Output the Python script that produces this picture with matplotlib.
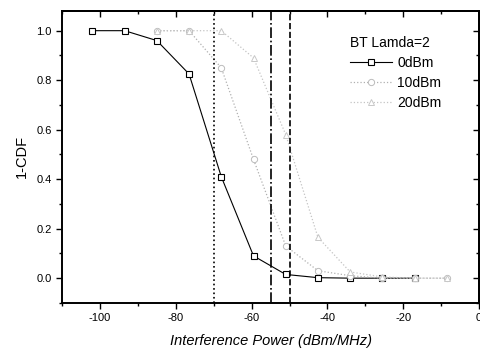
import matplotlib
matplotlib.use("Agg")
import matplotlib.pyplot as plt
from matplotlib.ticker import MultipleLocator

plt.rcParams['font.family'] = ['Liberation Sans', 'DejaVu Sans']

# Data
x0 = [-102, -93.5, -85, -76.5, -68, -59.5, -51, -42.5, -34, -25.5, -17]
y0 = [1.0, 1.0, 0.96, 0.825, 0.41, 0.09, 0.015, 0.002, 0.0, 0.0, 0.0]
x10 = [-85, -76.5, -68, -59.5, -51, -42.5, -34, -25.5, -17, -8.5]
y10 = [1.0, 1.0, 0.85, 0.48, 0.13, 0.03, 0.01, 0.0, 0.0, 0.0]
x20 = [-85, -76.5, -68, -59.5, -51, -42.5, -34, -25.5, -17, -8.5]
y20 = [1.0, 1.0, 1.0, 0.89, 0.58, 0.165, 0.025, 0.005, 0.0, 0.0]
vlines = [-70, -55, -50]
vstyles = [':', '-.', '--']
labels = ['0dBm', '10dBm', '20dBm']
legend_title = 'BT Lamda=2'
xticks = [-100, -80, -60, -40, -20, 0]
yticks = [0.0, 0.2, 0.4, 0.6, 0.8, 1.0]

fig = plt.figure(figsize=(4.81, 3.51), dpi=100)
ax = fig.add_axes([0.129, 0.137, 0.867, 0.832])

ax.plot(x0, y0, color='black', lw=0.8, marker='s', ms=4.5, mfc='white', mec='black', mew=0.8, label=labels[0])
ax.plot(x10, y10, color='#b0b0b0', lw=0.9, ls=':', marker='o', ms=4.5, mfc='white', mec='#bcbcbc', mew=0.7, label=labels[1])
ax.plot(x20, y20, color='#c4c4c4', lw=0.9, ls=':', marker='^', ms=4.5, mfc='white', mec='#c8c8c8', mew=0.7, label=labels[2])

for v, s in zip(vlines, vstyles):
    ax.axvline(v, color='black', lw=1.2, ls=s)

ax.set_xlim(-110, 0)
ax.set_ylim(-0.1, 1.08)
ax.set_xticks(xticks)
ax.set_xticklabels([str(t) for t in xticks])
ax.set_yticks(yticks)
ax.set_yticklabels(['%.1f' % t for t in yticks])
ax.xaxis.set_minor_locator(MultipleLocator(10))
ax.yaxis.set_minor_locator(MultipleLocator(0.1))
ax.tick_params(which='major', direction='out', length=4, width=1, labelsize=8)
ax.tick_params(which='minor', direction='out', length=2.5, width=1)

top = ax.secondary_xaxis('top')
top.set_xticks(xticks)
top.xaxis.set_minor_locator(MultipleLocator(10))
top.tick_params(which='major', direction='in', length=4, width=1, labeltop=False)
top.tick_params(which='minor', direction='in', length=2.5, width=1)
right = ax.secondary_yaxis('right')
right.set_yticks(yticks)
right.yaxis.set_minor_locator(MultipleLocator(0.1))
right.tick_params(which='major', direction='in', length=4, width=1, labelright=False)
right.tick_params(which='minor', direction='in', length=2.5, width=1)
for sp in list(ax.spines.values()) + [top.spines['top'], right.spines['right']]:
    sp.set_linewidth(1.4)

ax.set_xlabel('Interference Power (dBm/MHz)', fontsize=10.5, style='italic', labelpad=8)
ax.set_ylabel('1-CDF', fontsize=10.5, labelpad=5)

leg = ax.legend(title=legend_title, loc='upper right', bbox_to_anchor=(0.91, 0.913),
                frameon=False, fontsize=10, title_fontsize=10, handlelength=3.0,
                handletextpad=0.4, labelspacing=0.42, borderpad=0.0, borderaxespad=0.0,
                alignment='left')

fig.savefig('out.png', dpi=100)
